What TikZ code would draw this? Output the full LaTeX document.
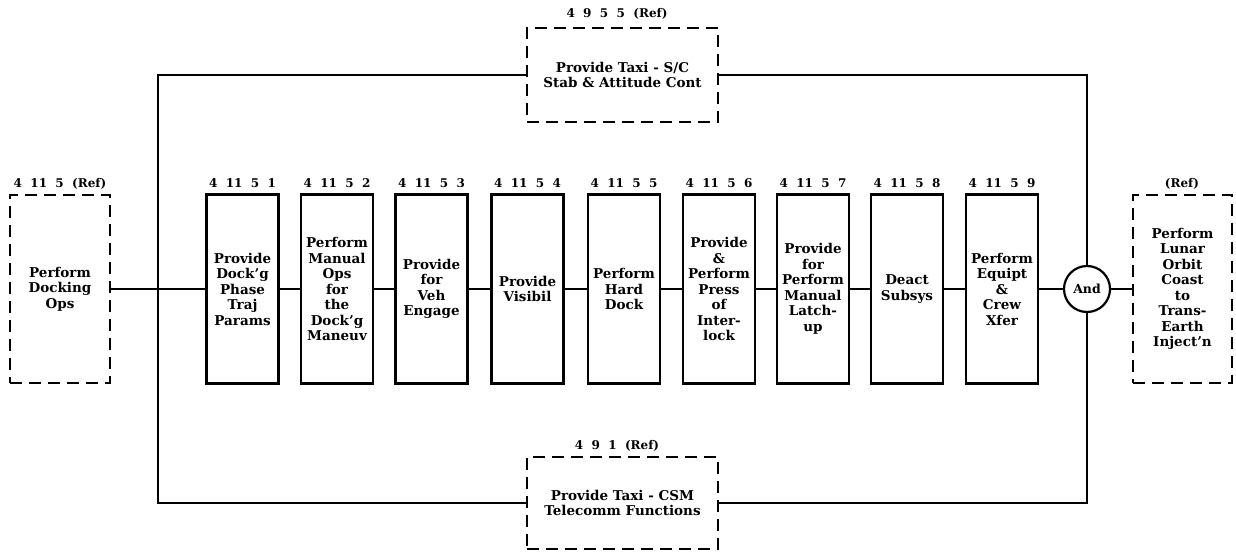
\documentclass[tikz,border=0pt]{standalone}
\usepackage{fontspec}
\setmainfont{DejaVu Serif}
\begin{document}
\begin{tikzpicture}[x=1pt,y=-1pt,
  conn/.style={line width=2.4pt},
  fnbox/.style={draw,line width=2.2pt,minimum width=72pt,minimum height=189pt,
    text width=72pt,align=center,inner sep=0pt,
    font=\bfseries\fontsize{13.5}{15.5}\selectfont},
  refbox/.style={draw,line width=2.2pt,dash pattern=on 12pt off 7pt,align=center,inner sep=0pt,
    font=\bfseries\fontsize{13.5}{15.5}\selectfont},
  lbl/.style={font=\bfseries\fontsize{12}{13}\selectfont,inner sep=1pt},
  andnode/.style={draw,circle,line width=2.2pt,minimum size=46pt,inner sep=0pt,
    font=\bfseries\fontsize{12.5}{14}\selectfont}
]
\useasboundingbox (0,0) rectangle (1236,554);

% reference boxes
\node[refbox,minimum width=100pt,minimum height=188pt] (left) at (60,289) {Perform\\Docking\\Ops};
\node[lbl] at (60,184) {4\ \ 11\ \ 5\ \ (Ref)};

\node[refbox,minimum width=99pt,minimum height=188pt] (right) at (1182.5,289)
  {Perform\\Lunar\\Orbit\\Coast\\to\\Trans-\\Earth\\Inject'n};
\node[lbl] at (1182,184) {(Ref)};

\node[refbox,minimum width=191pt,minimum height=94pt] (tb) at (622.5,75)
  {Provide Taxi - S/C\\Stab \& Attitude Cont};
\node[lbl] at (617,14) {4\ \ 9\ \ 5\ \ 5\ \ (Ref)};

\node[refbox,minimum width=191pt,minimum height=92pt] (bb) at (622.5,503)
  {Provide Taxi - CSM\\Telecomm Functions};
\node[lbl] at (617,446) {4\ \ 9\ \ 1\ \ (Ref)};

% function boxes
\node[fnbox] (b1) at (242.5,289) {Provide\\Dock'g\\Phase\\Traj\\Params};
\node[fnbox] (b2) at (337,289) {Perform\\Manual\\Ops\\for\\the\\Dock'g\\Maneuv};
\node[fnbox] (b3) at (431.5,289) {Provide\\for\\Veh\\Engage};
\node[fnbox] (b4) at (527.5,289) {Provide\\Visibil};
\node[fnbox] (b5) at (624,289) {Perform\\Hard\\Dock};
\node[fnbox] (b6) at (719,289) {Provide\\\&\\Perform\\Press\\of\\Inter-\\lock};
\node[fnbox] (b7) at (813,289) {Provide\\for\\Perform\\Manual\\Latch-\\up};
\node[fnbox] (b8) at (907,289) {Deact\\Subsys};
\node[fnbox] (b9) at (1002,289) {Perform\\Equipt\\\&\\Crew\\Xfer};

\foreach \n/\t in {b1/4\ \ 11\ \ 5\ \ 1, b2/4\ \ 11\ \ 5\ \ 2, b3/4\ \ 11\ \ 5\ \ 3,
  b4/4\ \ 11\ \ 5\ \ 4, b5/4\ \ 11\ \ 5\ \ 5, b6/4\ \ 11\ \ 5\ \ 6,
  b7/4\ \ 11\ \ 5\ \ 7, b8/4\ \ 11\ \ 5\ \ 8, b9/4\ \ 11\ \ 5\ \ 9}
  \node[lbl] at ([yshift=10pt]\n.north) {\t};

\node[andnode] (and) at (1087,289) {And};

% connectors
\draw[conn] (left) -- (b1);
\draw[conn] (b1) -- (b2);
\draw[conn] (b2) -- (b3);
\draw[conn] (b3) -- (b4);
\draw[conn] (b4) -- (b5);
\draw[conn] (b5) -- (b6);
\draw[conn] (b6) -- (b7);
\draw[conn] (b7) -- (b8);
\draw[conn] (b8) -- (b9);
\draw[conn] (b9) -- (and);
\draw[conn] (and) -- (right);

\coordinate (tl) at (158,75);
\coordinate (bl) at (158,503);
\draw[conn] (tb.west) -- (tl) -- (bl) -- (bb.west);
\draw[conn] (tb.east) -| (and.north);
\draw[conn] (bb.east) -| (and.south);
\end{tikzpicture}
\end{document}
